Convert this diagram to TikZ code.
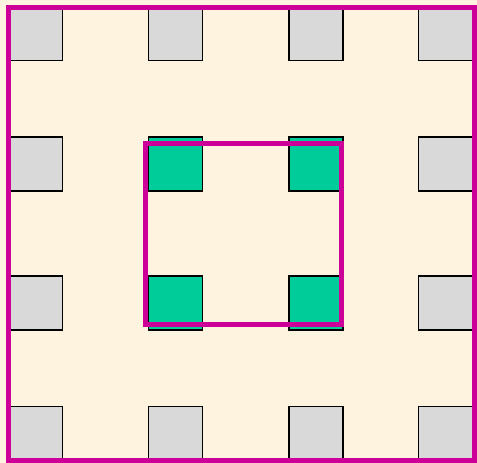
\documentclass[tikz,border=0pt]{standalone}
\definecolor{bgc}{HTML}{FDF3DE}
\definecolor{greyc}{HTML}{D9D9D9}
\definecolor{greenc}{HTML}{00CC99}
\definecolor{magc}{HTML}{CC0099}
\begin{document}
\begin{tikzpicture}[x=1pt,y=-1pt,
  sq/.style={draw=black,line width=1.3pt,minimum size=54pt,inner sep=0pt,outer sep=0pt},
  gsq/.style={sq,fill=greyc},
  tsq/.style={sq,fill=greenc},
  frame/.style={draw=magc,line width=5pt}]
\fill[bgc] (0,0) rectangle (477,463);
\useasboundingbox (0,0) rectangle (477,463);
% grey squares
\node[gsq] (s11) at (35.5,33.5) {};
\node[gsq] (s12) at (175.5,33.5) {};
\node[gsq] (s13) at (316,33.5) {};
\node[gsq] (s14) at (445.5,33.5) {};
\node[gsq] (s21) at (35.5,164) {};
\node[gsq] (s24) at (445.5,164) {};
\node[gsq] (s31) at (35.5,303) {};
\node[gsq] (s34) at (445.5,303) {};
\node[gsq] (s41) at (35.5,433.5) {};
\node[gsq] (s42) at (175.5,433.5) {};
\node[gsq] (s43) at (316,433.5) {};
\node[gsq] (s44) at (445.5,433.5) {};
% green squares
\node[tsq] (g22) at (175.5,164) {};
\node[tsq] (g23) at (316,164) {};
\node[tsq] (g32) at (175.5,303) {};
\node[tsq] (g33) at (316,303) {};
% frames
\coordinate (o1) at (8,7);
\coordinate (o2) at (474,460);
\coordinate (i1) at (145,143);
\coordinate (i2) at (341,324);
\draw[frame] (o1) rectangle (o2);
\draw[frame] (i1) rectangle (i2);
\end{tikzpicture}
\end{document}
